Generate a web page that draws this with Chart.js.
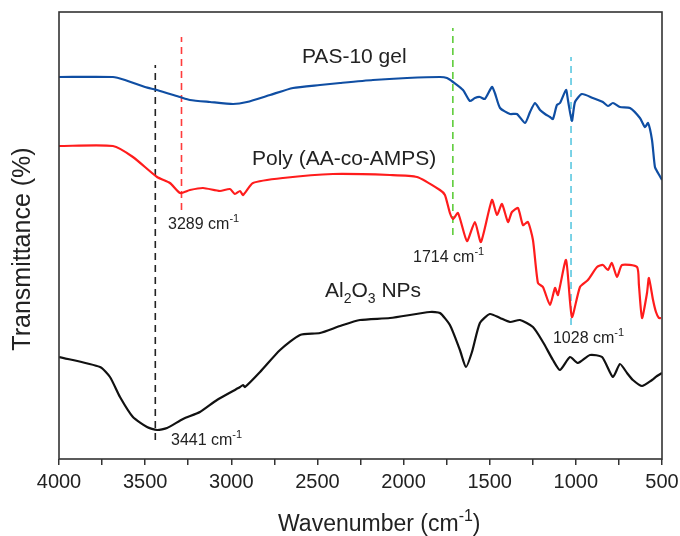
<!DOCTYPE html>
<html>
<head>
<meta charset="utf-8">
<script src="https://cdn.jsdelivr.net/npm/chart.js@4/dist/chart.umd.min.js"></script>
<style>
  html, body { margin: 0; padding: 0; background: #fff; }
  #wrap { width: 680px; height: 536px; }
</style>
</head>
<body>
<div id="wrap"><canvas id="ftir" width="680" height="536"></canvas></div>
<script>
// FTIR spectra, transmittance in arbitrary units (curves are offset)
const pasWave = [4000, 3687, 3617, 3501, 3431, 3298, 3240, 3124, 2990, 2909, 2775, 2642, 2485, 2369, 2178, 1980, 1789, 1748, 1713, 1655, 1615, 1586, 1557, 1528, 1487, 1470, 1440, 1382, 1342, 1295, 1266, 1237, 1208, 1179, 1150, 1133, 1110, 1092, 1057, 1046, 1023, 1005, 965, 901, 843, 814, 785, 744, 686, 628, 599, 581, 558, 541, 523, 500];
const pasT = [382, 382, 379, 372, 369, 362, 359, 357, 355, 357, 364, 371, 374, 376, 379, 381, 382, 381, 377, 369, 358, 361, 362, 360, 372, 366, 351, 345, 345, 336, 347, 356, 349, 345, 342, 340, 354, 356, 369, 359, 338, 357, 365, 361, 357, 353, 356, 352, 351, 341, 332, 336, 319, 292, 286, 279];

const polyWave = [4000, 3687, 3571, 3431, 3356, 3298, 3240, 3164, 3066, 3008, 2979, 2949, 2932, 2874, 2700, 2410, 2079, 1922, 1789, 1760, 1731, 1713, 1684, 1632, 1586, 1551, 1487, 1458, 1429, 1394, 1371, 1336, 1307, 1278, 1249, 1220, 1191, 1150, 1121, 1104, 1057, 1023, 976, 930, 877, 843, 814, 791, 761, 732, 645, 634, 616, 587, 576, 552, 535, 518, 506];
const polyT = [313, 313, 302, 282, 276, 266, 269, 271, 268, 270, 265, 268, 264, 276, 281, 285, 284, 282, 269, 264, 246, 240, 246, 218, 237, 217, 259, 244, 255, 237, 247, 251, 234, 237, 219, 176, 172, 154, 171, 164, 199, 142, 172, 179, 192, 194, 189, 196, 182, 194, 192, 174, 141, 166, 181, 159, 147, 141, 141];

const aloWave = [4000, 3762, 3704, 3646, 3571, 3489, 3431, 3373, 3280, 3182, 3083, 2949, 2932, 2920, 2833, 2717, 2601, 2485, 2369, 2253, 2079, 1847, 1789, 1731, 1673, 1638, 1603, 1557, 1499, 1440, 1382, 1324, 1249, 1191, 1133, 1092, 1034, 988, 918, 848, 785, 744, 703, 669, 616, 558, 529, 500];
const aloT = [102, 92, 82, 62, 42, 32, 29, 31, 40, 47, 59, 72, 74, 72, 87, 109, 124, 126, 133, 139, 141, 147, 146, 134, 109, 92, 107, 136, 145, 141, 137, 139, 132, 117, 99, 89, 102, 96, 104, 102, 82, 95, 86, 79, 73, 79, 83, 86];

// marked bands: position, dashed line extent, colour
const peakWave = [3441, 3289, 1714, 1028];
const peakFrom = [19, 249, 224, 134];
const peakTo = [394, 422, 431, 402];
const peakColors = ['#222222', '#ff3c3c', '#5fcc3c', '#5bc8e0'];

const xTicks = [4000, 3500, 3000, 2500, 2000, 1500, 1000, 500];

const FONT = "'Liberation Sans', Arial, sans-serif";

function toPoints(xs, ys) {
    return xs.map((x, i) => ({ x: x, y: ys[i] }));
}

const curveSets = [
    { label: 'PAS-10 gel', data: toPoints(pasWave, pasT), borderColor: '#0f4ea3' },
    { label: 'Poly (AA-co-AMPS)', data: toPoints(polyWave, polyT), borderColor: '#ff1c1c' },
    { label: 'Al2O3 NPs', data: toPoints(aloWave, aloT), borderColor: '#111111' }
].map(d => Object.assign(d, { borderWidth: 2.2, pointRadius: 0, tension: 0.2, order: 1 }));

const peakSets = peakWave.map((w, i) => ({
    label: 'peak ' + w,
    data: [{ x: w, y: peakFrom[i] }, { x: w, y: peakTo[i] }],
    borderColor: peakColors[i],
    borderWidth: 1.6,
    borderDash: [7, 5],
    pointRadius: 0,
    order: 2
}));

// text pieces: [text, shift] where shift 0 = normal, -1 = subscript, 1 = superscript
function drawRuns(ctx, x, y, runs, size) {
    let cx = x;
    runs.forEach(([txt, shift]) => {
        const s = shift === 0 ? size : Math.round(size * 0.68);
        ctx.font = s + 'px ' + FONT;
        const dy = shift === -1 ? size * 0.3 : (shift === 1 ? -size * 0.42 : 0);
        ctx.fillText(txt, cx, y + dy);
        cx += ctx.measureText(txt).width;
    });
}

// labels anchored in data units: wavenumber, transmittance (baseline)
const curveLabels = [
    { w: 2590, t: 396, runs: [['PAS-10 gel', 0]], size: 21 },
    { w: 2880, t: 294, runs: [['Poly (AA-co-AMPS)', 0]], size: 21 },
    { w: 2456, t: 162, runs: [['Al', 0], ['2', -1], ['O', 0], ['3', -1], [' NPs', 0]], size: 21 },
    { w: 3367, t: 230, runs: [['3289 cm', 0], ['-1', 1]], size: 16 },
    { w: 1945, t: 197, runs: [['1714 cm', 0], ['-1', 1]], size: 16 },
    { w: 1133, t: 116, runs: [['1028 cm', 0], ['-1', 1]], size: 16 },
    { w: 3350, t: 14, runs: [['3441 cm', 0], ['-1', 1]], size: 16 }
];

const decorPlugin = {
    id: 'decor',
    afterDraw(chart) {
        const ctx = chart.ctx;
        const area = chart.chartArea;
        const xs = chart.scales.x;
        const ys = chart.scales.y;
        ctx.save();
        // frame
        ctx.strokeStyle = '#333';
        ctx.lineWidth = 1.6;
        ctx.strokeRect(area.left, area.top, area.right - area.left, area.bottom - area.top);
        // labels
        ctx.fillStyle = '#222';
        ctx.textBaseline = 'alphabetic';
        ctx.textAlign = 'left';
        curveLabels.forEach(l => {
            drawRuns(ctx, xs.getPixelForValue(l.w), ys.getPixelForValue(l.t), l.runs, l.size);
        });
        // x title
        drawRuns(ctx, 278, 531, [['Wavenumber (cm', 0], ['-1', 1], [')', 0]], 23);
        // y title
        ctx.translate(23, 249);
        ctx.rotate(-Math.PI / 2);
        ctx.textAlign = 'center';
        ctx.textBaseline = 'middle';
        ctx.font = '25px ' + FONT;
        ctx.fillText('Transmittance (%)', 0, 0);
        ctx.restore();
    }
};

new Chart(document.getElementById('ftir'), {
    type: 'line',
    data: { datasets: curveSets.concat(peakSets) },
    options: {
        responsive: false,
        animation: false,
        layout: { padding: { top: 12, right: 18, left: 0, bottom: 0 } },
        plugins: { legend: { display: false }, tooltip: { enabled: false } },
        scales: {
            x: {
                type: 'linear',
                reverse: true,
                min: 500,
                max: 4000,
                afterFit: s => { s.height = 77; },
                afterBuildTicks: s => {
                    const t = [];
                    for (let v = 500; v <= 4000; v += 250) t.push({ value: v });
                    s.ticks = t;
                },
                ticks: {
                    autoSkip: false,
                    maxRotation: 0,
                    padding: 5,
                    color: '#222',
                    font: { family: FONT, size: 20 },
                    callback: v => xTicks.includes(v) ? String(v) : ''
                },
                grid: { drawOnChartArea: false, tickLength: 6, color: '#333', lineWidth: 1.5 },
                border: { display: false },
                title: { display: false }
            },
            y: {
                min: 0,
                max: 447,
                afterFit: s => { s.width = 59; },
                ticks: { display: false },
                grid: { display: false },
                border: { display: false }
            }
        }
    },
    plugins: [decorPlugin]
});
</script>
</body>
</html>
